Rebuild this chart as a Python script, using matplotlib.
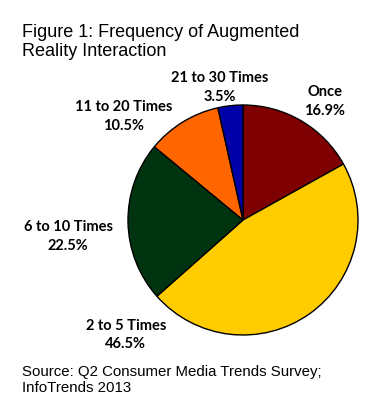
import matplotlib.pyplot as plt

# data
labels = ['Once', '2 to 5 Times', '6 to 10 Times', '11 to 20 Times', '21 to 30 Times']
shares = [16.9, 46.5, 22.5, 10.5, 3.5]
colors = ['#7F0000', '#FFCC00', '#00330F', '#FF6600', '#0000A8']

# where each label sits (data units of the pie axes, radius 1)
label_pos = [(0.71, 1.03), (-1.02, -1.0), (-1.52, -0.146), (-1.04, 0.90), (-0.2, 1.15)]

W, H = 387, 417
fig = plt.figure(figsize=(W / 100, H / 100), dpi=100)

# pie axes: center (243, 220) px, radius 115 px
cx, cy, r = 243, 220, 115
ax = fig.add_axes([(cx - r) / W, (H - cy - r) / H, 2 * r / W, 2 * r / H])
ax.pie(shares, colors=colors, startangle=90, counterclock=False, radius=1,
       wedgeprops=dict(edgecolor='black', linewidth=1.0))
ax.set_xlim(-1, 1)
ax.set_ylim(-1, 1)
ax.set_aspect('equal')
ax.axis('off')

for lab, val, (x, y) in zip(labels, shares, label_pos):
    ax.text(x, y, '{}\n{}%'.format(lab, val), ha='center', va='center',
            fontsize=10.5, fontweight='bold', family='Lato',
            linespacing=1.45, clip_on=False)

fig.text(22 / W, 1 - 24 / H, 'Figure 1: Frequency of Augmented\nReality Interaction',
         ha='left', va='top', fontsize=13, family='Liberation Sans',
         linespacing=1.18)
fig.text(22 / W, 1 - 365 / H, 'Source: Q2 Consumer Media Trends Survey;\nInfoTrends 2013',
         ha='left', va='top', fontsize=10.8, family='Liberation Sans',
         linespacing=1.2)

fig.savefig('out.png', dpi=100)
